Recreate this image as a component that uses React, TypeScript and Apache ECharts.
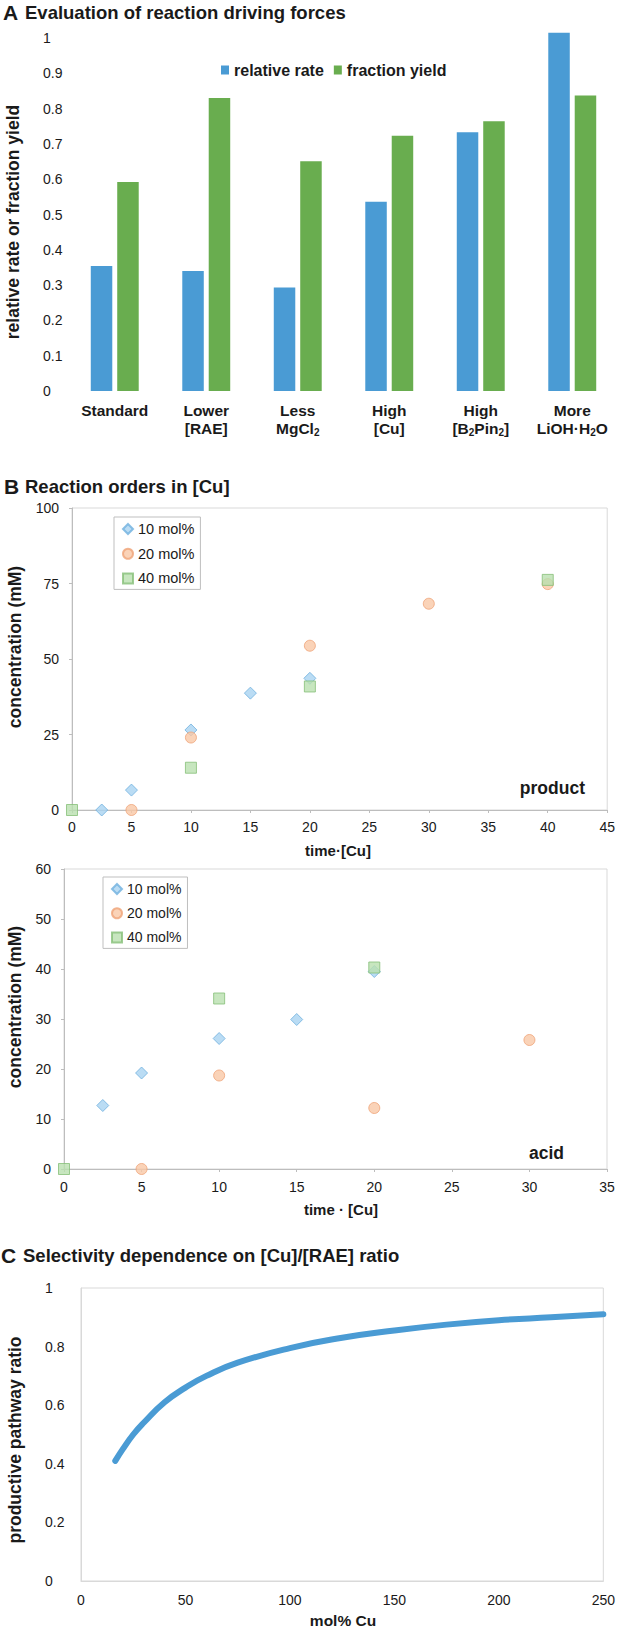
import React, { useEffect, useRef } from 'react';
import * as echarts from 'echarts';

const FF = "'Liberation Sans', Arial, Helvetica, sans-serif";
const TXT = '#1a1a1a';

// ---- Panel A data ----
const categories = ['Standard', 'Lower\n[RAE]', 'Less\nMgCl{s|2}', 'High\n[Cu]', 'High\n[B{s|2}Pin{s|2}]', 'More\nLiOH·H{s|2}O'];
const relativeRate = [0.354, 0.34, 0.293, 0.536, 0.733, 1.015];
const fractionYield = [0.592, 0.83, 0.651, 0.723, 0.764, 0.837];

// ---- Panel B data (product) ----
const prod10 = [[2.5, 0], [5, 6.6], [10, 26.5], [15, 38.7], [20, 43.6]];
const prod20 = [[5, 0], [10, 24.0], [20, 54.4], [30, 68.3], [40, 74.8]];
const prod40 = [[0, 0], [10, 14.0], [20, 40.9], [40, 76.2]];

// ---- Panel B data (acid) ----
const acid10 = [[2.5, 12.7], [5, 19.2], [10, 26.1], [15, 29.9], [20, 39.5]];
const acid20 = [[5, 0], [10, 18.7], [20, 12.2], [30, 25.8]];
const acid40 = [[0, 0], [10, 34.1], [20, 40.3]];

// ---- Panel C data ----
const molCu = [16.4, 20, 25, 30, 40, 50, 60, 75, 100, 125, 150, 175, 200, 225, 250];
const pathwayRatio = [0.41, 0.45, 0.5, 0.54, 0.61, 0.66, 0.7, 0.745, 0.795, 0.83, 0.855, 0.875, 0.89, 0.9, 0.91];

const BLUE = '#4A9BD4';
const GREEN = '#69AD4F';
const S10 = { color: '#A9D3F1', borderColor: '#6FB0DE', borderWidth: 1 };
const S20 = { color: '#F9C8A6', borderColor: '#EFA277', borderWidth: 1 };
const S40 = { color: '#B9E0AF', borderColor: '#86BF78', borderWidth: 1 };

const axisGray = '#bdbdbd';

function scatterAxes(gridIndex: number, xMax: number, yMax: number, yInt: number, xMargin: number) {
  return {
    x: {
      type: 'value', gridIndex, min: 0, max: xMax, interval: 5,
      axisLine: { show: true, lineStyle: { color: axisGray } },
      axisTick: { show: true, length: 3, lineStyle: { color: axisGray } },
      splitLine: { show: false },
      axisLabel: { fontFamily: FF, fontSize: 14, color: TXT, margin: xMargin },
    },
    y: {
      type: 'value', gridIndex, min: 0, max: yMax, interval: yInt,
      axisLine: { show: true, lineStyle: { color: axisGray } },
      axisTick: { show: true, length: 3, lineStyle: { color: axisGray } },
      splitLine: { show: false },
      axisLabel: { fontFamily: FF, fontSize: 14, color: TXT, margin: 13 },
    },
  };
}

function txt(x: number, y: number, text: string, size: number, align = 'left', rotate = false) {
  return {
    type: 'text', x, y, rotation: rotate ? Math.PI / 2 : 0, silent: true,
    style: { text, font: `bold ${size}px ${FF}`, fill: TXT, align, verticalAlign: 'middle' },
  };
}

export default function App() {
  const ref = useRef<HTMLDivElement>(null);
  useEffect(() => {
    const chart = echarts.init(ref.current!, null, { renderer: 'svg' });
    const pa = scatterAxes(1, 45, 100, 25, 10);
    const ac = scatterAxes(2, 35, 60, 10, 11);
    const option: any = {
      animation: false,
      backgroundColor: '#fff',
      grid: [
        { left: 69, top: 38, width: 556, height: 353 },
        { left: 72, top: 508, width: 537, height: 302, show: true, borderColor: '#d9d9d9', borderWidth: 1 },
        { left: 64, top: 869, width: 543, height: 300, show: true, borderColor: '#d9d9d9', borderWidth: 1 },
        { left: 81, top: 1288, width: 523, height: 293, show: true, borderColor: '#d9d9d9', borderWidth: 1 },
      ],
      legend: [
        {
          data: ['relative rate', 'fraction yield'], left: 216, top: 56, icon: 'rect',
          itemWidth: 8, itemHeight: 9, itemGap: 10, selectedMode: false,
          textStyle: { fontFamily: FF, fontWeight: 'bold', fontSize: 16, color: TXT, lineHeight: 18 },
        },
        {
          data: [{ name: '10 mol%', icon: 'diamond' }, { name: '20 mol%', icon: 'circle' }, { name: '40 mol%', icon: 'rect' }],
          left: 114, top: 517, orient: 'vertical', itemWidth: 10, itemHeight: 10, itemGap: 8.7,
          padding: [4, 6, 3, 8], borderColor: '#bfbfbf', borderWidth: 1, selectedMode: false,
          textStyle: { fontFamily: FF, fontSize: 14.5, color: TXT, lineHeight: 16 },
        },
        {
          data: [{ name: '10 mol%', icon: 'diamond' }, { name: '20 mol%', icon: 'circle' }, { name: '40 mol%', icon: 'rect' }],
          left: 103, top: 877, orient: 'vertical', itemWidth: 10, itemHeight: 10, itemGap: 8.2,
          padding: [4, 6, 3, 8], borderColor: '#bfbfbf', borderWidth: 1, selectedMode: false,
          textStyle: { fontFamily: FF, fontSize: 14, color: TXT, lineHeight: 16 },
        },
      ],
      xAxis: [
        {
          type: 'category', gridIndex: 0, data: categories,
          axisLine: { show: false }, axisTick: { show: false },
          axisLabel: {
            interval: 0, margin: 10, fontFamily: FF, fontWeight: 'bold', fontSize: 15.5, color: TXT, lineHeight: 18,
            rich: { s: { fontFamily: FF, fontWeight: 'bold', fontSize: 10, color: TXT, lineHeight: 8, verticalAlign: 'bottom' } },
          },
        },
        pa.x,
        ac.x,
        {
          type: 'value', gridIndex: 3, min: 0, max: 250, interval: 50,
          axisLine: { show: true, lineStyle: { color: '#d9d9d9' } }, axisTick: { show: false }, splitLine: { show: false },
          axisLabel: { fontFamily: FF, fontSize: 14, color: TXT, margin: 12 },
        },
      ],
      yAxis: [
        {
          type: 'value', gridIndex: 0, min: 0, max: 1, interval: 0.1,
          axisLine: { show: false }, axisTick: { show: false }, splitLine: { show: false },
          axisLabel: { fontFamily: FF, fontSize: 14, color: TXT, align: 'left', margin: 26 },
        },
        pa.y,
        ac.y,
        {
          type: 'value', gridIndex: 3, min: 0, max: 1, interval: 0.2,
          axisLine: { show: true, lineStyle: { color: '#d9d9d9' } }, axisTick: { show: false }, splitLine: { show: false },
          axisLabel: { fontFamily: FF, fontSize: 14, color: TXT, align: 'left', margin: 36 },
        },
      ],
      series: [
        { type: 'bar', name: 'relative rate', xAxisIndex: 0, yAxisIndex: 0, data: relativeRate, barWidth: 21.5, barGap: '23%', itemStyle: { color: BLUE }, clip: false },
        { type: 'bar', name: 'fraction yield', xAxisIndex: 0, yAxisIndex: 0, data: fractionYield, barWidth: 21.5, barGap: '23%', itemStyle: { color: GREEN }, clip: false },
        { type: 'scatter', name: '10 mol%', xAxisIndex: 1, yAxisIndex: 1, data: prod10, symbol: 'diamond', symbolSize: 12, itemStyle: S10 },
        { type: 'scatter', name: '20 mol%', xAxisIndex: 1, yAxisIndex: 1, data: prod20, symbol: 'circle', symbolSize: 11, itemStyle: S20 },
        { type: 'scatter', name: '40 mol%', xAxisIndex: 1, yAxisIndex: 1, data: prod40, symbol: 'rect', symbolSize: 11, itemStyle: S40 },
        { type: 'scatter', name: '10 mol%', xAxisIndex: 2, yAxisIndex: 2, data: acid10, symbol: 'diamond', symbolSize: 12, itemStyle: S10 },
        { type: 'scatter', name: '20 mol%', xAxisIndex: 2, yAxisIndex: 2, data: acid20, symbol: 'circle', symbolSize: 11, itemStyle: S20 },
        { type: 'scatter', name: '40 mol%', xAxisIndex: 2, yAxisIndex: 2, data: acid40, symbol: 'rect', symbolSize: 11, itemStyle: S40 },
        {
          type: 'line', name: 'productive pathway ratio', xAxisIndex: 3, yAxisIndex: 3,
          data: molCu.map((x, i) => [x, pathwayRatio[i]]), smooth: true, showSymbol: false,
          lineStyle: { color: BLUE, width: 6, cap: 'round' },
        },
      ],
      graphic: [
        txt(3, 12, 'A', 21),
        txt(25, 12, 'Evaluation of reaction driving forces', 18.5),
        txt(4, 486, 'B', 21),
        txt(25, 486, 'Reaction orders in [Cu]', 18.5),
        txt(1, 1255, 'C', 21),
        txt(23, 1255, 'Selectivity dependence on [Cu]/[RAE] ratio', 18.5),
        txt(13, 222, 'relative rate or fraction yield', 17.5, 'center', true),
        txt(14.5, 647, 'concentration (mM)', 17.5, 'center', true),
        txt(14.5, 1007, 'concentration (mM)', 17.5, 'center', true),
        txt(14.5, 1440, 'productive pathway ratio', 17.5, 'center', true),
        txt(338, 850, 'time·[Cu]', 15, 'center'),
        txt(341, 1209, 'time · [Cu]', 15, 'center'),
        txt(343, 1620, 'mol% Cu', 15.5, 'center'),
        txt(585, 788, 'product', 17.5, 'right'),
        txt(564, 1153, 'acid', 17.5, 'right'),
      ],
    };
    chart.setOption(option);
    return () => chart.dispose();
  }, []);
  return <div ref={ref} style={{ position: 'absolute', left: 0, top: 0, width: 618, height: 1628, background: '#fff' }} />;
}
